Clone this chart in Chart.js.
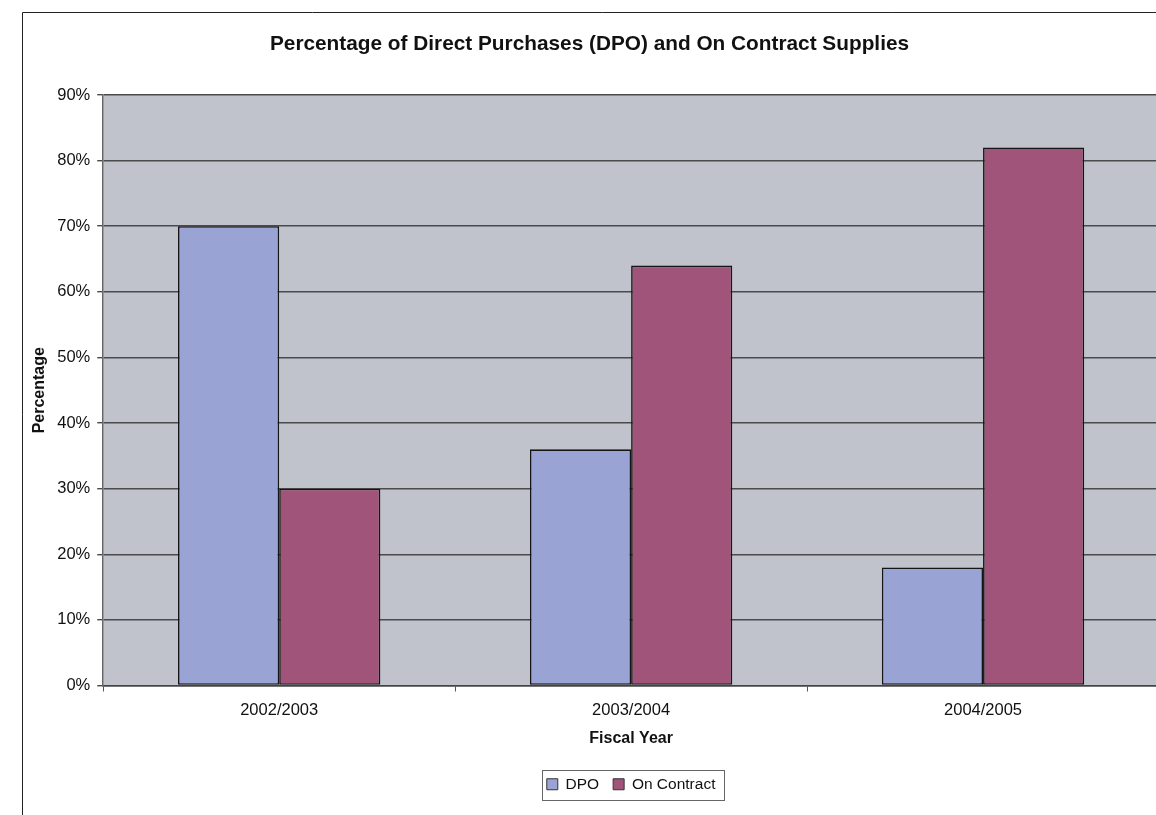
<!DOCTYPE html>
<html>
<head>
<meta charset="utf-8">
<script src="https://cdn.jsdelivr.net/npm/chart.js@4/dist/chart.umd.min.js"></script>
<style>
html,body{margin:0;padding:0;background:#fff;overflow:hidden;width:1156px;height:815px;}
#wrap{position:absolute;left:0;top:0;width:1182px;height:815px;}
canvas{display:block;}
</style>
</head>
<body>
<div id="wrap"><canvas id="c" width="1182" height="815"></canvas></div>
<script>
const categories = ['2002/2003', '2003/2004', '2004/2005'];
const dpoValues = [70, 36, 18];
const onContractValues = [30, 64, 82];
const seriesNames = ['DPO', 'On Contract'];
const chartTitle = 'Percentage of Direct Purchases (DPO) and On Contract Supplies';
const xTitle = 'Fiscal Year';
const yTitle = 'Percentage';

const FONT = "'Liberation Sans', Arial, sans-serif";

const decor = {
  id: 'decor',
  beforeDraw(chart) {
    const ctx = chart.ctx, a = chart.chartArea;
    ctx.save();
    ctx.fillStyle = '#fff';
    ctx.fillRect(0, 0, chart.width, chart.height);
    ctx.strokeStyle = '#222';
    ctx.lineWidth = 1;
    ctx.beginPath();
    ctx.moveTo(22.5, chart.height + 2);
    ctx.lineTo(22.5, 12.5);
    ctx.lineTo(chart.width + 2, 12.5);
    ctx.stroke();
    ctx.fillStyle = '#C0C3CC';
    ctx.fillRect(a.left, a.top, a.right - a.left, a.bottom - a.top);
    ctx.restore();
  },
  afterDraw(chart) {
    const lg = chart.legend;
    if (!lg || !lg.legendHitBoxes || !lg.legendHitBoxes.length) return;
    const hb = lg.legendHitBoxes;
    let l = Infinity, r = -Infinity, t = Infinity, b = -Infinity;
    hb.forEach(h => { l = Math.min(l, h.left); r = Math.max(r, h.left + h.width); t = Math.min(t, h.top); b = Math.max(b, h.top + h.height); });
    const ctx = chart.ctx;
    ctx.save();
    ctx.strokeStyle = '#666';
    ctx.lineWidth = 1;
    ctx.strokeRect(Math.round(l - 5) + 0.5, Math.round(t - 7) + 0.5, Math.round(r - l + 13), Math.round(b - t + 14));
    ctx.restore();
  }
};

new Chart(document.getElementById('c'), {
  type: 'bar',
  data: {
    labels: categories,
    datasets: [
      { label: seriesNames[0], data: dpoValues, backgroundColor: '#9AA4D4', borderColor: '#151515', borderWidth: 1.6, borderSkipped: false },
      { label: seriesNames[1], data: onContractValues, backgroundColor: '#A05479', borderColor: '#151515', borderWidth: 1.6, borderSkipped: false }
    ]
  },
  options: {
    responsive: false,
    animation: false,
    devicePixelRatio: 1,
    layout: { padding: { left: 20, right: 23, top: 0, bottom: 13 } },
    datasets: { bar: { categoryPercentage: 0.575, barPercentage: 1.0 } },
    plugins: {
      title: {
        display: true, text: chartTitle, color: '#111',
        font: { family: FONT, size: 20.8, weight: 'bold' },
        padding: { top: 32, bottom: 38 }
      },
      legend: {
        display: true, position: 'bottom', fullSize: false,
        labels: {
          color: '#111', boxWidth: 11, boxHeight: 11, padding: 14,
          font: { family: FONT, size: 15.5 },
          generateLabels(chart) {
            return chart.data.datasets.map((d, i) => ({
              text: d.label, fillStyle: d.backgroundColor, strokeStyle: '#333', lineWidth: 1,
              hidden: false, datasetIndex: i, fontColor: '#111'
            }));
          }
        }
      },
      tooltip: { enabled: false }
    },
    scales: {
      x: {
        grid: { display: true, offset: true, drawOnChartArea: false, drawTicks: true, tickLength: 6, color: '#555' },
        border: { display: true, color: '#444', width: 1.5 },
        ticks: { color: '#111', padding: 9, font: { family: FONT, size: 16.5 }, maxRotation: 0 },
        title: { display: true, text: xTitle, color: '#111', font: { family: FONT, size: 16, weight: 'bold' }, padding: { top: 0, bottom: 14 } }
      },
      y: {
        min: 0, max: 90,
        grid: { display: true, color: '#4a4a4a', lineWidth: 1.4, drawTicks: true, tickLength: 6 },
        border: { display: true, color: '#666', width: 1.5 },
        ticks: { stepSize: 10, color: '#111', padding: 7, font: { family: FONT, size: 16.5 }, callback: v => v + '%' },
        title: { display: true, text: yTitle, color: '#111', font: { family: FONT, size: 16, weight: 'bold' }, padding: { top: 10, bottom: 1 } }
      }
    }
  },
  plugins: [decor]
});
</script>
</body>
</html>
